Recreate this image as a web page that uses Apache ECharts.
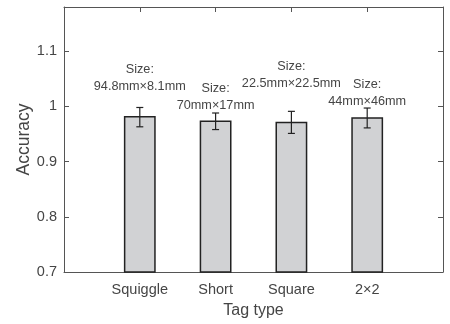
<!DOCTYPE html>
<html>
<head>
<meta charset="utf-8">
<script src="https://cdn.jsdelivr.net/npm/echarts@6/dist/echarts.min.js"></script>
<style>html,body{margin:0;padding:0;background:#fff;}#c{width:450px;height:324px;}</style>
</head>
<body>
<div id="c"></div>
<script>
const categories = ['Squiggle', 'Short', 'Square', '2\u00d72'];
const positions = [1, 2, 3, 4];
const accuracy = [0.981, 0.973, 0.971, 0.979];
const errLow = [0.963, 0.958, 0.951, 0.961];
const errHigh = [0.998, 0.988, 0.991, 0.997];
const sizeTitle = 'Size:';
const sizeLabels = ['94.8mm\u00d78.1mm', '70mm\u00d717mm', '22.5mm\u00d722.5mm', '44mm\u00d746mm'];
const labelY = [1.036, 1.001, 1.042, 1.009];
const yTicks = [0.7, 0.8, 0.9, 1, 1.1];

const FONT = 'Liberation Sans, Arial, Helvetica, sans-serif';
const TXT = '#454545';
const AX = '#555';
const yMin = 0.7, yMax = 1.18;

const chart = echarts.init(document.getElementById('c'), null, {renderer: 'canvas'});

function tick() { return {show: true, inside: true, length: 5, lineStyle: {color: AX, width: 1}}; }
function line() { return {show: true, onZero: false, lineStyle: {color: AX, width: 1}}; }

const option = {
  backgroundColor: '#fff',
  animation: false,
  grid: {left: 64, right: 7, top: 7, bottom: 50},
  xAxis: [
    {
      type: 'value', min: 0, max: 5, interval: 1, position: 'bottom',
      name: 'Tag type', nameLocation: 'middle', nameGap: 31,
      nameTextStyle: {fontFamily: FONT, fontSize: 16, color: TXT},
      axisLine: line(), axisTick: tick(), splitLine: {show: false},
      axisLabel: {
        fontFamily: FONT, fontSize: 14.5, color: TXT, margin: 10,
        formatter: v => { const i = positions.indexOf(v); return i >= 0 ? categories[i] : ''; }
      }
    },
    {
      type: 'value', min: 0, max: 5, interval: 1, position: 'top',
      axisLine: line(), axisTick: tick(), splitLine: {show: false},
      axisLabel: {show: false}
    }
  ],
  yAxis: [
    {
      type: 'value', min: yMin, max: yMax, interval: 0.1, position: 'left',
      name: 'Accuracy', nameLocation: 'middle', nameGap: 31, nameMoveOverlap: false,
      nameTextStyle: {fontFamily: FONT, fontSize: 17.5, color: TXT},
      axisLine: line(), axisTick: tick(), splitLine: {show: false},
      axisLabel: {
        fontFamily: FONT, fontSize: 14.5, color: TXT, margin: 7, showMaxLabel: false,
        formatter: v => { const t = yTicks.find(x => Math.abs(x - v) < 1e-6); return t === undefined ? '' : String(t); }
      }
    },
    {
      type: 'value', min: yMin, max: yMax, interval: 0.1, position: 'right',
      axisLine: line(), axisTick: tick(), splitLine: {show: false},
      axisLabel: {show: false}
    }
  ],
  series: [
    {
      type: 'custom',
      xAxisIndex: 0, yAxisIndex: 0,
      data: positions.map((p, i) => [p, accuracy[i], errLow[i], errHigh[i]]),
      renderItem: function (params, api) {
        const x = api.value(0), v = api.value(1), lo = api.value(2), hi = api.value(3);
        const tl = api.coord([x - 0.2, v]);
        const br = api.coord([x + 0.2, yMin]);
        const pLo = api.coord([x, lo]);
        const pHi = api.coord([x, hi]);
        const cap = 3.5;
        return {
          type: 'group',
          children: [
            {type: 'rect', shape: {x: tl[0], y: tl[1], width: br[0] - tl[0], height: br[1] - tl[1]},
             style: {fill: '#d1d2d4', stroke: '#222', lineWidth: 1.5}},
            {type: 'line', shape: {x1: pLo[0], y1: pLo[1], x2: pHi[0], y2: pHi[1]}, style: {stroke: '#222', lineWidth: 1.2}},
            {type: 'line', shape: {x1: pLo[0] - cap, y1: pLo[1], x2: pLo[0] + cap, y2: pLo[1]}, style: {stroke: '#222', lineWidth: 1.2}},
            {type: 'line', shape: {x1: pHi[0] - cap, y1: pHi[1], x2: pHi[0] + cap, y2: pHi[1]}, style: {stroke: '#222', lineWidth: 1.2}}
          ]
        };
      },
      z: 2
    },
    {
      type: 'custom',
      xAxisIndex: 0, yAxisIndex: 0,
      data: positions.map((p, i) => [p, labelY[i], i]),
      renderItem: function (params, api) {
        const i = api.value(2);
        const pt = api.coord([api.value(0), api.value(1)]);
        return {
          type: 'group',
          children: [
            {type: 'text', x: pt[0], y: pt[1] - 17,
             style: {text: sizeTitle, fill: TXT, font: '12.7px ' + FONT, textAlign: 'center', textVerticalAlign: 'middle'}},
            {type: 'text', x: pt[0], y: pt[1],
             style: {text: sizeLabels[i], fill: TXT, font: '12.7px ' + FONT, textAlign: 'center', textVerticalAlign: 'middle'}}
          ]
        };
      },
      z: 3
    }
  ]
};
chart.setOption(option);
</script>
</body>
</html>
